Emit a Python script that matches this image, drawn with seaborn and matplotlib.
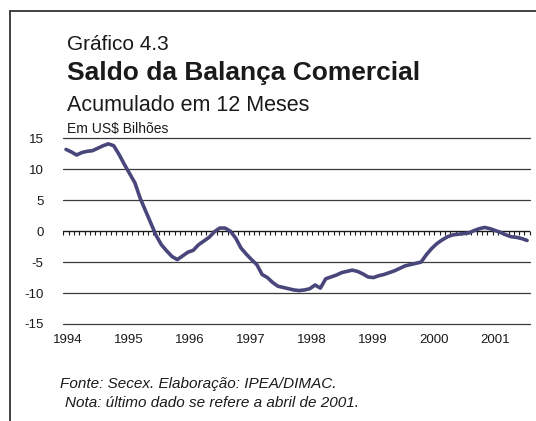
import matplotlib
matplotlib.use('Agg')
import matplotlib.pyplot as plt
import matplotlib.patches as patches
import seaborn as sns
import pandas as pd
import numpy as np

# saldo acumulado em 12 meses, jan/1994 a abr/2001 (US$ bilhoes)
months = list(range(88))
saldo = [13.2, 12.8, 12.3, 12.7, 12.9, 13.0, 13.4, 13.8, 14.1, 13.8,
         12.4, 10.8, 9.3, 7.8, 5.3, 3.3, 1.3, -0.7, -2.2, -3.2,
         -4.1, -4.6, -4.0, -3.4, -3.1, -2.2, -1.6, -1.0, -0.1, 0.5,
         0.5, 0.0, -1.1, -2.7, -3.7, -4.6, -5.4, -7.0, -7.5, -8.3,
         -8.9, -9.1, -9.3, -9.5, -9.6, -9.5, -9.3, -8.7, -9.2, -7.7,
         -7.4, -7.1, -6.7, -6.5, -6.3, -6.5, -6.9, -7.4, -7.5, -7.2,
         -7.0, -6.7, -6.4, -6.0, -5.6, -5.4, -5.2, -5.0, -3.8, -2.8,
         -2.0, -1.4, -0.9, -0.6, -0.5, -0.4, -0.3, 0.1, 0.4, 0.6,
         0.4, 0.1, -0.2, -0.6, -0.9, -1.0, -1.2, -1.5]
year_labels = ['1994', '1995', '1996', '1997', '1998', '1999', '2000', '2001']
year_pos = [0.4, 11.9, 23.4, 34.9, 46.4, 57.9, 69.4, 80.9]
y_ticks = [15, 10, 5, 0, -5, -10, -15]

sns.set_style('white')
plt.rcParams['font.family'] = ['Liberation Sans', 'DejaVu Sans']

df = pd.DataFrame({'mes': months, 'saldo': saldo})

fig = plt.figure(figsize=(5.36, 4.21), dpi=100)
ax = fig.add_axes([63/536, 1 - 324/421, (530 - 63)/536, (324 - 138.3)/421])

for v in y_ticks:
    if v != 0:
        ax.axhline(v, color='#3a3a3a', lw=0.9, zorder=1, clip_on=False)
ax.axhline(0, color='#1a1a1a', lw=1.0, zorder=1)

sns.lineplot(data=df, x='mes', y='saldo', ax=ax, color='#48467a', lw=2.6, zorder=3)

ax.set_xlim(-0.57, 87.55)
ax.set_ylim(-15, 15)
ax.set_yticks(y_ticks)
ax.set_yticklabels([str(v) for v in y_ticks])
ax.set_xticks(year_pos)
ax.set_xticklabels(year_labels)
ax.tick_params(axis='both', length=0, labelsize=9.5, colors='#1a1a1a')
ax.tick_params(axis='y', pad=14)
ax.tick_params(axis='x', pad=7)
ax.set_xlabel('')
ax.set_ylabel('')
for s in ax.spines.values():
    s.set_visible(False)

# marcas mensais sobre a linha do zero
sec = ax.secondary_xaxis(0.49999)
sec.set_xticks(np.arange(-0.5, 88, 1))
sec.set_xticklabels([])
sec.tick_params(direction='out', length=3, width=0.8, color='#1a1a1a')
for s in sec.spines.values():
    s.set_visible(False)

# moldura
fig.patches.append(patches.Rectangle((9.5/536, -0.1), 1.2, 1.1 - 11/421,
                                     transform=fig.transFigure, fill=False,
                                     edgecolor='#333333', lw=1.3))

fig.text(67/536, 1 - 49.5/421, 'Gráfico 4.3', fontsize=15, color='#1a1a1a', va='baseline')
fig.text(67/536, 1 - 80/421, 'Saldo da Balança Comercial', fontsize=19,
         fontweight='bold', color='#1a1a1a', va='baseline')
fig.text(67/536, 1 - 111/421, 'Acumulado em 12 Meses', fontsize=15.5, color='#1a1a1a', va='baseline')
fig.text(67/536, 1 - 132.7/421, 'Em US$ Bilhões', fontsize=10, color='#1a1a1a', va='baseline')
fig.text(60/536, 1 - 388.3/421, 'Fonte: Secex. Elaboração: IPEA/DIMAC.', fontsize=11,
         style='italic', color='#1a1a1a', va='baseline')
fig.text(65/536, 1 - 406.7/421, 'Nota: último dado se refere a abril de 2001.', fontsize=11,
         style='italic', color='#1a1a1a', va='baseline')

fig.savefig('out.png', dpi=100)
